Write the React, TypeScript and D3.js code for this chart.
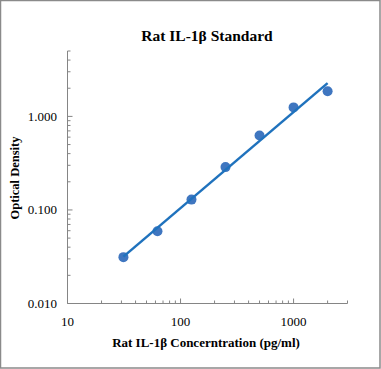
import React, { useEffect } from "react";
import * as d3 from "d3";

const concentrations = [31.25, 62.5, 125, 250, 500, 1000, 2000];
const opticalDensity = [0.0313, 0.0593, 0.129, 0.287, 0.626, 1.248, 1.86];
const xMajorTicks = [10, 100, 1000];
const xMinorTicks = [20, 30, 40, 50, 60, 70, 80, 90, 200, 300, 400, 500, 600, 700, 800, 900, 2000, 3000];
const yMajorTicks = [0.01, 0.1, 1];
const yMinorTicks = [0.02, 0.03, 0.04, 0.05, 0.06, 0.07, 0.08, 0.09, 0.2, 0.3, 0.4, 0.5, 0.6, 0.7, 0.8, 0.9, 2, 3, 4, 5];
const yTickLabels = ["0.010", "0.100", "1.000"];
const xTickLabels = ["10", "100", "1000"];

const W = 381;
const H = 369;

export default function App() {
  useEffect(() => {
    document.body.style.margin = "0";
  }, []);

  const x = d3.scaleLog().domain([10, 3000]).range([67.5, 347.5]);
  const y = d3.scaleLog().domain([0.01, 5]).range([303.5, 51]);

  // power trendline (least squares in log-log space)
  const lx = concentrations.map(Math.log10);
  const ly = opticalDensity.map(Math.log10);
  const mx = d3.mean(lx) as number;
  const my = d3.mean(ly) as number;
  const slope =
    d3.sum(lx.map((v, i) => (v - mx) * (ly[i] - my))) / d3.sum(lx.map((v) => (v - mx) * (v - mx)));
  const intercept = my - slope * mx;
  const fit = (c: number) => Math.pow(10, intercept + slope * Math.log10(c));
  const x0 = concentrations[0];
  const x1 = concentrations[concentrations.length - 1];
  const lineGen = d3
    .line<number>()
    .x((c) => x(c))
    .y((c) => y(fit(c)));

  const axisColor = "#858585";
  const font = "'Liberation Serif', 'Times New Roman', serif";

  return (
    <svg width={W} height={H} style={{ display: "block" }} fontFamily={font}>
      <rect x={0} y={0} width={W} height={H} fill="#fff" />
      <rect x={0.5} y={0.5} width={W - 1.5} height={H - 1.5} fill="none" stroke="#8a8a8a" strokeWidth={1.5} />

      <text x={207} y={41} textAnchor="middle" fontWeight="bold" fontSize={15.5} fill="#000">
        Rat IL-1β Standard
      </text>

      {/* axes */}
      <line x1={x(10)} x2={x(10)} y1={y(5)} y2={y(0.01)} stroke={axisColor} strokeWidth={1} />
      <line x1={x(10)} x2={x(3000)} y1={y(0.01)} y2={y(0.01)} stroke={axisColor} strokeWidth={1} />

      {xMajorTicks.map((t) => (
        <line key={"xM" + t} x1={x(t)} x2={x(t)} y1={y(0.01)} y2={y(0.01) - 5} stroke={axisColor} />
      ))}
      {xMinorTicks.map((t) => (
        <line key={"xm" + t} x1={x(t)} x2={x(t)} y1={y(0.01)} y2={y(0.01) - 3} stroke={axisColor} />
      ))}
      {yMajorTicks.map((t) => (
        <line key={"yM" + t} x1={x(10)} x2={x(10) + 5} y1={y(t)} y2={y(t)} stroke={axisColor} />
      ))}
      {yMinorTicks.map((t) => (
        <line key={"ym" + t} x1={x(10)} x2={x(10) + 3} y1={y(t)} y2={y(t)} stroke={axisColor} />
      ))}

      {yMajorTicks.map((t, i) => (
        <text key={"yl" + t} x={57} y={y(t)} dy="0.35em" textAnchor="end" fontSize={13} fill="#000">
          {yTickLabels[i]}
        </text>
      ))}
      {xMajorTicks.map((t, i) => (
        <text key={"xl" + t} x={x(t)} y={326} textAnchor="middle" fontSize={13} fill="#000">
          {xTickLabels[i]}
        </text>
      ))}

      <text x={206} y={347} textAnchor="middle" fontWeight="bold" fontSize={13} fill="#000">
        Rat IL-1β Concerntration (pg/ml)
      </text>
      <text
        transform={`translate(19,178) rotate(-90)`}
        textAnchor="middle"
        fontWeight="bold"
        fontSize={12.5}
        fill="#000"
      >
        Optical Density
      </text>

      {opticalDensity.map((v, i) => (
        <circle key={"p" + i} cx={x(concentrations[i])} cy={y(v)} r={5} fill="#3f76c0" />
      ))}
      <path d={lineGen([x0, x1]) as string} fill="none" stroke="#1f72bd" strokeWidth={2.5} />
    </svg>
  );
}
